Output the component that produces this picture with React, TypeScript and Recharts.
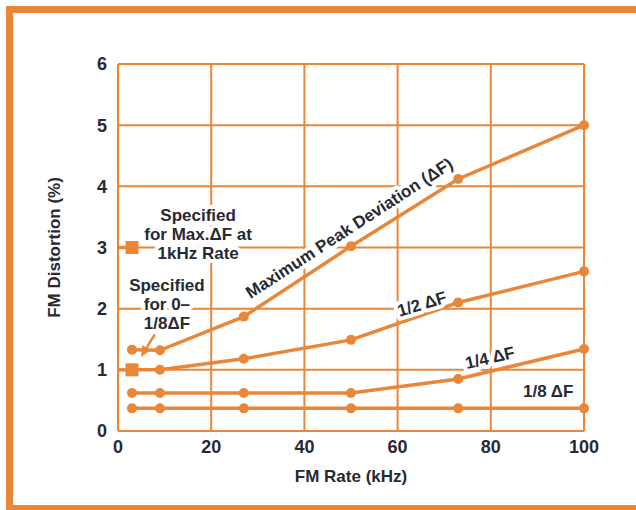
import { LineChart, Line, XAxis, YAxis, CartesianGrid, Scatter, ReferenceLine, ReferenceDot } from "recharts";

const ORANGE = "#e8873a";
const INK = "#272a33";
const FONT = "'Liberation Sans', Arial, sans-serif";

// FM rate (kHz) at each measured point
const fmRate = [3, 9, 27, 50, 73, 100];
// distortion (%) for each peak deviation
const maxDev = [1.33, 1.32, 1.87, 3.02, 4.12, 5.0];
const halfDev = [1.0, 1.0, 1.18, 1.49, 2.1, 2.61];
const quarterDev = [0.62, 0.62, 0.62, 0.62, 0.85, 1.34];
const eighthDev = [0.37, 0.37, 0.37, 0.37, 0.37, 0.37];

// specification markers
const specRate = [3, 3];
const specValue = [3, 1];

const xTicks = [0, 20, 40, 60, 80, 100];
const yTicks = [0, 1, 2, 3, 4, 5, 6];

// notes placed in data coordinates
const notes = [
  { x: 49.6, y: 3.32, angle: -33, lines: ["Maximum Peak Deviation (\u0394F)"] },
  { x: 65.2, y: 2.08, angle: -17, lines: ["1/2 \u0394F"] },
  { x: 79.8, y: 1.2, angle: -13, lines: ["1/4 \u0394F"] },
  { x: 92.3, y: 0.65, angle: 0, lines: ["1/8 \u0394F"] },
  { x: 17.2, y: 3.22, angle: 0, lines: ["Specified", "for Max.\u0394F at", "1kHz Rate"] },
  { x: 10.5, y: 2.08, angle: 0, lines: ["Specified", "for 0\u2013", "1/8\u0394F"] },
];

const rows = fmRate.map((x, i) => ({ x, max: maxDev[i], half: halfDev[i], quarter: quarterDev[i], eighth: eighthDev[i] }));
const specRows = specRate.map((x, i) => ({ x, y: specValue[i] }));

function Note({ cx, cy, angle, lines }: { cx: number; cy: number; angle: number; lines: string[] }) {
  const lh = 19;
  return (
    <text
      x={cx}
      y={cy}
      transform={`rotate(${angle} ${cx} ${cy})`}
      textAnchor="middle"
      fontFamily={FONT}
      fontWeight={700}
      fontSize={17}
      fill={INK}
      stroke="#fff"
      strokeWidth={8}
      strokeLinejoin="round"
      paintOrder="stroke"
    >
      {lines.map((t, i) => (
        <tspan key={i} x={cx} dy={i === 0 ? -((lines.length - 1) * lh) / 2 + 6 : lh}>{t}</tspan>
      ))}
    </text>
  );
}

function Arrow(p: any) {
  const { x1, y1, x2, y2 } = p;
  const a = Math.atan2(y2 - y1, x2 - x1);
  const len = 11, w = 5;
  const bx = x2 - len * Math.cos(a), by = y2 - len * Math.sin(a);
  const pts = `${x2},${y2} ${bx - w * Math.sin(a)},${by + w * Math.cos(a)} ${bx + w * Math.sin(a)},${by - w * Math.cos(a)}`;
  return (
    <g>
      <line x1={x1} y1={y1} x2={bx} y2={by} stroke={ORANGE} strokeWidth={2.5} />
      <polygon points={pts} fill={ORANGE} />
    </g>
  );
}

const dot = { r: 5, fill: ORANGE, stroke: "none" };

export default function App() {
  return (
    <div style={{ position: "absolute", left: 0, top: 0, width: 636, height: 510, overflow: "hidden", background: "#fff" }}>
      <div style={{ position: "absolute", left: 6, top: 6, width: 720, height: 506, boxSizing: "border-box", borderTop: `7px solid ${ORANGE}`, borderLeft: `7px solid ${ORANGE}`, borderBottom: `7px solid ${ORANGE}` }} />
      <div style={{ position: "absolute", left: 0, top: 0 }}>
        <LineChart width={636} height={510} data={rows} margin={{ top: 64, right: 52, left: 48, bottom: 49 }}>
          <CartesianGrid stroke={ORANGE} strokeWidth={2} horizontalValues={yTicks} verticalValues={xTicks} />
          <XAxis
            dataKey="x"
            type="number"
            domain={[0, 100]}
            ticks={xTicks}
            height={30}
            axisLine={false}
            tickLine={false}
            tickSize={0}
            tickMargin={9}
            tick={{ fill: INK, fontSize: 18, fontWeight: 700, fontFamily: FONT }}
            label={{ value: "FM Rate (kHz)", position: "bottom", offset: 9, fill: INK, fontSize: 17, fontWeight: 700, fontFamily: FONT }}
          />
          <YAxis
            type="number"
            domain={[0, 6]}
            ticks={yTicks}
            width={70}
            axisLine={false}
            tickLine={false}
            tickSize={0}
            tickMargin={11}
            tick={{ fill: INK, fontSize: 18, fontWeight: 700, fontFamily: FONT }}
            label={{ value: "FM Distortion (%)", angle: -90, position: "insideLeft", offset: 6, fill: INK, fontSize: 17, fontWeight: 700, fontFamily: FONT, style: { textAnchor: "middle" } }}
          />
          <ReferenceLine segment={[{ x: 0, y: specValue[0] }, { x: specRate[0], y: specValue[0] }]} stroke={ORANGE} strokeWidth={3.5} />
          <ReferenceLine segment={[{ x: 0, y: specValue[1] }, { x: specRate[1], y: specValue[1] }]} stroke={ORANGE} strokeWidth={3.5} />
          <ReferenceLine segment={[{ x: 7.9, y: 1.58 }, { x: 4.9, y: 1.21 }]} shape={Arrow} />
          {notes.map((n, i) => (
            <ReferenceDot key={i} x={n.x} y={n.y} r={0} shape={(p: any) => <Note cx={p.cx} cy={p.cy} angle={n.angle} lines={n.lines} />} />
          ))}
          <Line dataKey="max" stroke={ORANGE} strokeWidth={3.5} dot={dot} activeDot={false} isAnimationActive={false} />
          <Line dataKey="half" stroke={ORANGE} strokeWidth={3.5} dot={dot} activeDot={false} isAnimationActive={false} />
          <Line dataKey="quarter" stroke={ORANGE} strokeWidth={3.5} dot={dot} activeDot={false} isAnimationActive={false} />
          <Line dataKey="eighth" stroke={ORANGE} strokeWidth={3.5} dot={dot} activeDot={false} isAnimationActive={false} />
          <Scatter data={specRows} dataKey="y" isAnimationActive={false} shape={(p: any) => <rect x={p.cx - 6.5} y={p.cy - 6.5} width={13} height={13} fill={ORANGE} />} />
        </LineChart>
      </div>
    </div>
  );
}
